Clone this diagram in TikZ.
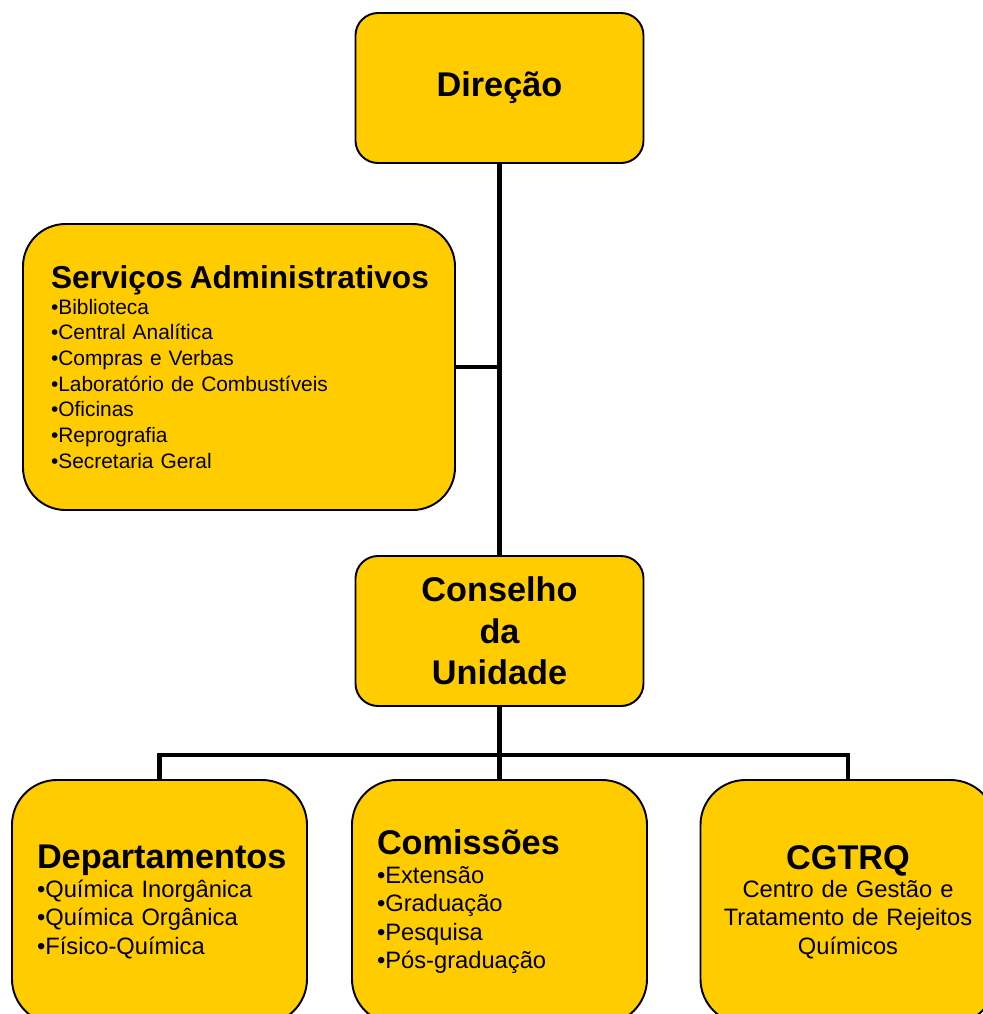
\documentclass[tikz,border=0pt]{standalone}
\usepackage{fontspec}
\setmainfont{Liberation Sans}
\definecolor{orgyellow}{RGB}{255,204,0}

\newcommand{\boxtitle}[1]{\mbox{\fontsize{19.5}{23.5}\selectfont\bfseries #1}}
\newcommand{\srvtitle}[1]{\mbox{\fontsize{18}{21.6}\selectfont\bfseries #1}}

\tikzset{
  unit/.style={draw=black, line width=1.1pt, fill=orgyellow, inner sep=0pt},
  head/.style={unit, rounded corners=0.45cm, minimum width=5.76cm, minimum height=3cm,
    align=center, font=\fontsize{19.5}{23.5}\selectfont\bfseries},
  servbox/.style={unit, rounded corners=0.85cm, minimum width=8.64cm, minimum height=5.72cm,
    inner xsep=0.56cm, text width=7.52cm, align=left, font=\fontsize{11.9}{14.6}\selectfont},
  listbox/.style={unit, rounded corners=0.9cm, minimum width=5.9cm, minimum height=4.88cm,
    inner xsep=0.5cm, text width=4.9cm, align=left, font=\fontsize{13.5}{16.2}\selectfont},
  link/.style={line width=2.8pt}
}

\begin{document}
\begin{tikzpicture}
  \useasboundingbox (0,0) rectangle (19.66,-20.28);
  \clip (0,0) rectangle (19.66,-20.28);
  % ===== top: direction and council =====
  \node[head] (dir) at (9.99,-1.76) {Direção};
  \node[servbox] (serv) at (4.78,-7.34)
    {\srvtitle{Serviços Administrativos}\\
     •Biblioteca\\ •Central Analítica\\ •Compras e Verbas\\
     •Laboratório de Combustíveis\\ •Oficinas\\ •Reprografia\\ •Secretaria Geral};
  \node[head] (cons) at (9.99,-12.62) {Conselho\\ da\\ Unidade};
  % ===== bottom row =====
  \node[listbox] (dept) at (3.19,-18.04)
    {\boxtitle{Departamentos}\\ •Química Inorgânica\\ •Química Orgânica\\ •Físico-Química};
  \node[listbox] (com) at (9.99,-18.04)
    {\boxtitle{Comissões}\\ •Extensão\\ •Graduação\\ •Pesquisa\\ •Pós-graduação};
  \node[listbox, inner xsep=0.2cm, text width=5.5cm, align=center] (cgtrq) at (16.96,-18.04)
    {\boxtitle{CGTRQ}\\ Centro de Gestão e\\ Tratamento de Rejeitos\\ Químicos};
  % ===== connectors =====
  \coordinate (bus) at (0,-15.1);
  \draw[link] (dir) -- (cons);
  \draw[link] (serv.east) -- (serv.east -| dir.south);
  \draw[link] (cons.south) -- (com.north);
  \draw[link] (dept.north) -- (dept.north |- bus) -- (cgtrq.north |- bus) -- (cgtrq.north);
\end{tikzpicture}
\end{document}
